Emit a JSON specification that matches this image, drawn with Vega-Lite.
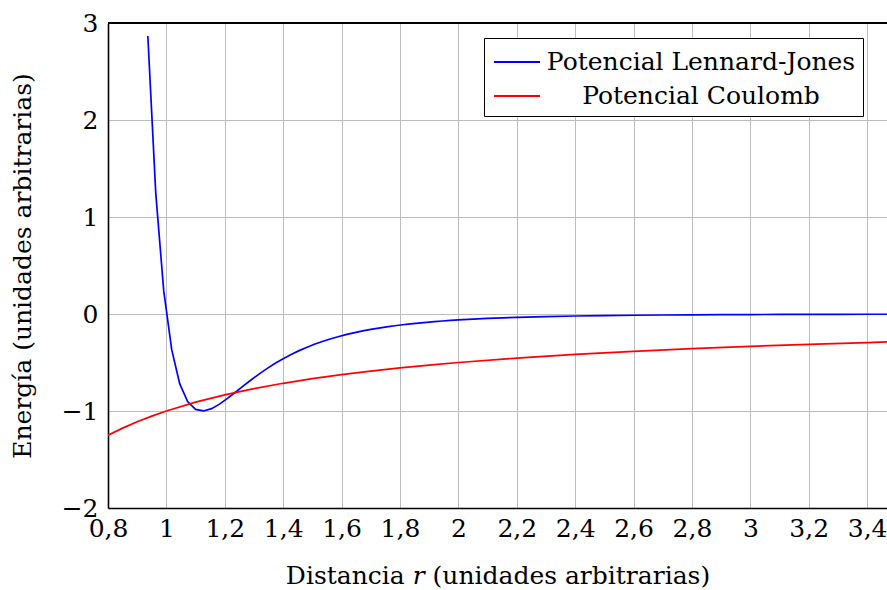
{
  "$schema": "https://vega.github.io/schema/vega-lite/v6.json",
  "width": 779,
  "height": 485,
  "autosize": {"type": "none"},
  "padding": {"left": 108, "top": 23, "right": 0, "bottom": 82},
  "background": "white",
  "config": {
    "view": {"stroke": null},
    "font": "DejaVu Serif",
    "axis": {
      "labelFont": "DejaVu Serif",
      "titleFont": "DejaVu Serif",
      "labelFontSize": 25,
      "titleFontSize": 25,
      "titleFontWeight": "normal",
      "labelColor": "black",
      "titleColor": "black",
      "domainColor": "black",
      "domainWidth": 1.6,
      "gridColor": "#bdbdbd",
      "gridWidth": 1,
      "ticks": false
    },
    "legend": {
      "labelFont": "DejaVu Serif",
      "labelFontSize": 25
    }
  },
  "data": {
    "values": [
      {"r": 0.9364, "V": 2.866, "serie": "Potencial Lennard-Jones"},
      {"r": 0.9636, "V": 1.2436, "serie": "Potencial Lennard-Jones"},
      {"r": 0.9909, "V": 0.2382, "serie": "Potencial Lennard-Jones"},
      {"r": 1.0182, "V": -0.3682, "serie": "Potencial Lennard-Jones"},
      {"r": 1.0455, "V": -0.7176, "serie": "Potencial Lennard-Jones"},
      {"r": 1.0727, "V": -0.9022, "serie": "Potencial Lennard-Jones"},
      {"r": 1.1, "V": -0.9834, "serie": "Potencial Lennard-Jones"},
      {"r": 1.1273, "V": -0.9994, "serie": "Potencial Lennard-Jones"},
      {"r": 1.1545, "V": -0.9759, "serie": "Potencial Lennard-Jones"},
      {"r": 1.1818, "V": -0.9293, "serie": "Potencial Lennard-Jones"},
      {"r": 1.2091, "V": -0.8705, "serie": "Potencial Lennard-Jones"},
      {"r": 1.2364, "V": -0.8063, "serie": "Potencial Lennard-Jones"},
      {"r": 1.2636, "V": -0.7412, "serie": "Potencial Lennard-Jones"},
      {"r": 1.2909, "V": -0.6776, "serie": "Potencial Lennard-Jones"},
      {"r": 1.3182, "V": -0.617, "serie": "Potencial Lennard-Jones"},
      {"r": 1.3455, "V": -0.5605, "serie": "Potencial Lennard-Jones"},
      {"r": 1.3727, "V": -0.5084, "serie": "Potencial Lennard-Jones"},
      {"r": 1.4, "V": -0.4607, "serie": "Potencial Lennard-Jones"},
      {"r": 1.4273, "V": -0.4171, "serie": "Potencial Lennard-Jones"},
      {"r": 1.4545, "V": -0.3777, "serie": "Potencial Lennard-Jones"},
      {"r": 1.4818, "V": -0.3421, "serie": "Potencial Lennard-Jones"},
      {"r": 1.5091, "V": -0.3099, "serie": "Potencial Lennard-Jones"},
      {"r": 1.5364, "V": -0.2809, "serie": "Potencial Lennard-Jones"},
      {"r": 1.5636, "V": -0.255, "serie": "Potencial Lennard-Jones"},
      {"r": 1.5909, "V": -0.2315, "serie": "Potencial Lennard-Jones"},
      {"r": 1.6182, "V": -0.2104, "serie": "Potencial Lennard-Jones"},
      {"r": 1.6455, "V": -0.1913, "serie": "Potencial Lennard-Jones"},
      {"r": 1.6727, "V": -0.1743, "serie": "Potencial Lennard-Jones"},
      {"r": 1.7, "V": -0.1588, "serie": "Potencial Lennard-Jones"},
      {"r": 1.7273, "V": -0.1449, "serie": "Potencial Lennard-Jones"},
      {"r": 1.7545, "V": -0.1324, "serie": "Potencial Lennard-Jones"},
      {"r": 1.7818, "V": -0.1211, "serie": "Potencial Lennard-Jones"},
      {"r": 1.8091, "V": -0.1109, "serie": "Potencial Lennard-Jones"},
      {"r": 1.8364, "V": -0.1016, "serie": "Potencial Lennard-Jones"},
      {"r": 1.8636, "V": -0.0932, "serie": "Potencial Lennard-Jones"},
      {"r": 1.8909, "V": -0.0856, "serie": "Potencial Lennard-Jones"},
      {"r": 1.9182, "V": -0.0787, "serie": "Potencial Lennard-Jones"},
      {"r": 1.9455, "V": -0.0724, "serie": "Potencial Lennard-Jones"},
      {"r": 1.9727, "V": -0.0667, "serie": "Potencial Lennard-Jones"},
      {"r": 2.0, "V": -0.0615, "serie": "Potencial Lennard-Jones"},
      {"r": 2.1, "V": -0.0461, "serie": "Potencial Lennard-Jones"},
      {"r": 2.2, "V": -0.035, "serie": "Potencial Lennard-Jones"},
      {"r": 2.3, "V": -0.0268, "serie": "Potencial Lennard-Jones"},
      {"r": 2.4, "V": -0.0208, "serie": "Potencial Lennard-Jones"},
      {"r": 2.5, "V": -0.0163, "serie": "Potencial Lennard-Jones"},
      {"r": 2.6, "V": -0.0129, "serie": "Potencial Lennard-Jones"},
      {"r": 2.7, "V": -0.0103, "serie": "Potencial Lennard-Jones"},
      {"r": 2.8, "V": -0.0083, "serie": "Potencial Lennard-Jones"},
      {"r": 2.9, "V": -0.0067, "serie": "Potencial Lennard-Jones"},
      {"r": 3.0, "V": -0.0055, "serie": "Potencial Lennard-Jones"},
      {"r": 3.1, "V": -0.0045, "serie": "Potencial Lennard-Jones"},
      {"r": 3.2, "V": -0.0037, "serie": "Potencial Lennard-Jones"},
      {"r": 3.3, "V": -0.0031, "serie": "Potencial Lennard-Jones"},
      {"r": 3.4, "V": -0.0026, "serie": "Potencial Lennard-Jones"},
      {"r": 3.5, "V": -0.0022, "serie": "Potencial Lennard-Jones"},
      {"r": 0.8, "V": -1.25, "serie": "Potencial Coulomb"},
      {"r": 0.85, "V": -1.1765, "serie": "Potencial Coulomb"},
      {"r": 0.9, "V": -1.1111, "serie": "Potencial Coulomb"},
      {"r": 0.95, "V": -1.0526, "serie": "Potencial Coulomb"},
      {"r": 1.0, "V": -1.0, "serie": "Potencial Coulomb"},
      {"r": 1.1, "V": -0.9091, "serie": "Potencial Coulomb"},
      {"r": 1.2, "V": -0.8333, "serie": "Potencial Coulomb"},
      {"r": 1.3, "V": -0.7692, "serie": "Potencial Coulomb"},
      {"r": 1.4, "V": -0.7143, "serie": "Potencial Coulomb"},
      {"r": 1.5, "V": -0.6667, "serie": "Potencial Coulomb"},
      {"r": 1.6, "V": -0.625, "serie": "Potencial Coulomb"},
      {"r": 1.7, "V": -0.5882, "serie": "Potencial Coulomb"},
      {"r": 1.8, "V": -0.5556, "serie": "Potencial Coulomb"},
      {"r": 1.9, "V": -0.5263, "serie": "Potencial Coulomb"},
      {"r": 2.0, "V": -0.5, "serie": "Potencial Coulomb"},
      {"r": 2.2, "V": -0.4545, "serie": "Potencial Coulomb"},
      {"r": 2.4, "V": -0.4167, "serie": "Potencial Coulomb"},
      {"r": 2.6, "V": -0.3846, "serie": "Potencial Coulomb"},
      {"r": 2.8, "V": -0.3571, "serie": "Potencial Coulomb"},
      {"r": 3.0, "V": -0.3333, "serie": "Potencial Coulomb"},
      {"r": 3.2, "V": -0.3125, "serie": "Potencial Coulomb"},
      {"r": 3.4, "V": -0.2941, "serie": "Potencial Coulomb"},
      {"r": 3.5, "V": -0.2857, "serie": "Potencial Coulomb"}
    ]
  },
  "layer": [
    {
      "mark": {"type": "line", "clip": true, "strokeWidth": 1.7},
      "encoding": {
        "x": {
          "field": "r",
          "type": "quantitative",
          "scale": {"domain": [0.8, 3.468], "nice": false, "zero": false},
          "axis": {
            "values": [0.8, 1, 1.2, 1.4, 1.6, 1.8, 2, 2.2, 2.4, 2.6, 2.8, 3, 3.2, 3.4],
            "format": "~g",
            "labelExpr": "replace(datum.label, '.', ',')",
            "labelPadding": 8,
            "labelFlush": false,
            "title": "Distancia 𝑟 (unidades arbitrarias)",
            "titlePadding": 22
          }
        },
        "y": {
          "field": "V",
          "type": "quantitative",
          "scale": {"domain": [-2, 3], "nice": false, "zero": false},
          "axis": {
            "values": [-2, -1, 0, 1, 2, 3],
            "format": "d",
            "labelPadding": 10,
            "labelFlush": false,
            "title": "Energía (unidades arbitrarias)",
            "titlePadding": 26
          }
        },
        "color": {
          "field": "serie",
          "type": "nominal",
          "scale": {
            "domain": ["Potencial Lennard-Jones", "Potencial Coulomb"],
            "range": ["#0000ff", "#ff0000"]
          },
          "legend": {
            "title": null,
            "orient": "none",
            "legendX": 376,
            "legendY": 15,
            "strokeColor": "black",
            "fillColor": "white",
            "padding": 7,
            "symbolType": "M-1.44,0L1.44,0",
            "symbolSize": 1024,
            "symbolStrokeWidth": 2,
            "symbolOffset": 9,
            "labelAlign": "center",
            "labelOffset": 167,
            "rowPadding": 4,
            "labelLimit": 400
          }
        }
      }
    },
    {
      "mark": {"type": "rule", "color": "black", "strokeWidth": 1.6},
      "encoding": {"y": {"datum": 3}}
    }
  ]
}
